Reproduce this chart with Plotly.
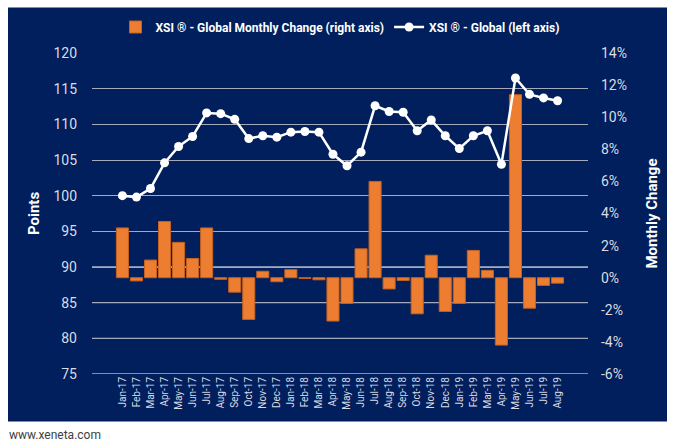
import plotly.graph_objects as go

months = ["Jan-17", "Feb-17", "Mar-17", "Apr-17", "May-17", "Jun-17", "Jul-17", "Aug-17",
          "Sep-17", "Oct-17", "Nov-17", "Dec-17", "Jan-18", "Feb-18", "Mar-18", "Apr-18",
          "May-18", "Jun-18", "Jul-18", "Aug-18", "Sep-18", "Oct-18", "Nov-18", "Dec-18",
          "Jan-19", "Feb-19", "Mar-19", "Apr-19", "May-19", "Jun-19", "Jul-19", "Aug-19"]

xsi_global = [100.0, 99.8, 101.0, 104.6, 106.9, 108.3, 111.6, 111.5,
              110.7, 108.0, 108.4, 108.2, 108.9, 109.0, 108.9, 105.8,
              104.2, 106.1, 112.6, 111.8, 111.7, 109.1, 110.6, 108.4,
              106.6, 108.4, 109.1, 104.4, 116.5, 114.2, 113.7, 113.3]

monthly_change = [3.1, -0.2, 1.1, 3.5, 2.2, 1.2, 3.1, -0.1,
                  -0.9, -2.6, 0.4, -0.25, 0.5, -0.05, -0.13, -2.7,
                  -1.6, 1.8, 6.0, -0.7, -0.17, -2.25, 1.4, -2.1,
                  -1.6, 1.7, 0.46, -4.2, 11.4, -1.9, -0.48, -0.34]

left_ticks = [75, 80, 85, 90, 95, 100, 105, 110, 115, 120]
right_ticks = [-6, -4, -2, 0, 2, 4, 6, 8, 10, 12, 14]
right_tick_labels = [f"{v}%" for v in right_ticks]
white_grid_levels = [75, 80, 85, 90]

NAVY = "#001F5C"
ORANGE = "#ED7D31"
TICK_COLOR = "#D9DCE4"

# layout geometry (pixels)
W, H = 675, 446
L, R, T, B = 92, 87, 53, 72
PW, PH = W - L - R, H - T - B


def px_x(p):
    return (p - L) / PW


def px_y(p):
    return (H - B - p) / PH


fig = go.Figure()

fig.add_trace(go.Bar(
    x=months, y=monthly_change, yaxis="y",
    name="XSI \u00ae - Global Monthly Change (right axis)",
    marker=dict(color=ORANGE, line=dict(color="#C4621F", width=1)),
))

fig.add_trace(go.Scatter(
    x=months, y=xsi_global, yaxis="y2",
    name="XSI \u00ae - Global (left axis)",
    mode="lines+markers",
    line=dict(color="white", width=2.5),
    marker=dict(color="white", size=9, symbol="circle"),
))

shapes = [dict(type="rect", xref="paper", yref="paper",
               x0=px_x(8), x1=px_x(667), y0=px_y(421.5), y1=px_y(7.5),
               fillcolor=NAVY, line=dict(width=0), layer="below")]
for lv in white_grid_levels:
    shapes.append(dict(type="line", xref="paper", yref="y2", x0=0, x1=1, y0=lv, y1=lv,
                       line=dict(color="white", width=1), layer="between"))

fig.update_layout(
    width=W, height=H,
    margin=dict(l=L, r=R, t=T, b=B, autoexpand=False),
    paper_bgcolor="white",
    plot_bgcolor="rgba(0,0,0,0)",
    bargap=0.14,
    showlegend=True,
    legend=dict(orientation="h", x=0.5, xanchor="center", y=px_y(27), yanchor="middle",
                bgcolor="rgba(0,0,0,0)",
                font=dict(family="Liberation Sans Narrow, Roboto, sans-serif", size=12,
                          color="white", weight="bold"),
                traceorder="normal", itemwidth=30),
    xaxis=dict(type="category", showgrid=False, zeroline=False, showline=False,
               tickangle=-90, ticks="",
               tickfont=dict(family="Roboto, sans-serif", size=10, color=TICK_COLOR)),
    yaxis=dict(side="right", range=[-6, 14], tickvals=right_ticks, ticktext=right_tick_labels,
               showgrid=False, zeroline=False, showline=False, ticks="",
               ticklabelstandoff=12,
               tickfont=dict(family="Roboto, sans-serif", size=14, color=TICK_COLOR),
               title=dict(text="Monthly Change", standoff=20,
                          font=dict(family="Roboto, sans-serif", size=15, color="white",
                                    weight="bold"))),
    yaxis2=dict(side="left", overlaying="y", range=[75, 120], tickvals=left_ticks,
                showgrid=True, gridcolor="#A4A9BC", gridwidth=1,
                zeroline=False, showline=False, ticks="",
                ticklabelstandoff=14,
                tickfont=dict(family="Roboto, sans-serif", size=14, color=TICK_COLOR),
                title=dict(text="Points", standoff=10,
                           font=dict(family="Roboto, sans-serif", size=15, color="white",
                                     weight="bold"))),
    shapes=shapes,
    annotations=[dict(text="www.xeneta.com", xref="paper", yref="paper",
                      x=px_x(7), y=px_y(435), xanchor="left", yanchor="middle",
                      showarrow=False,
                      font=dict(family="Roboto, sans-serif", size=12, color="#404040"))],
)

fig.write_html("out.html")
